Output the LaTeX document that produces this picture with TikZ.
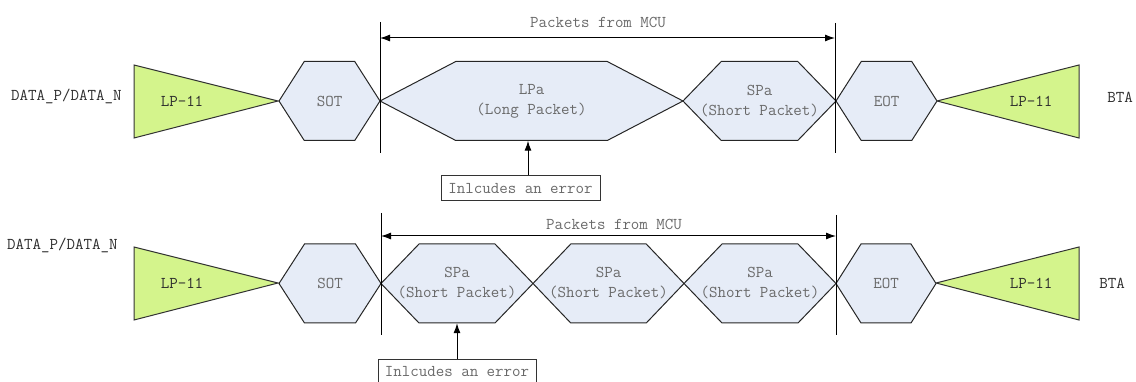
\documentclass[tikz,border=0pt]{standalone}
\usepackage{fontspec}
\usetikzlibrary{arrows.meta}

\definecolor{lpgreen}{RGB}{212,244,140}
\definecolor{pktblue}{RGB}{230,236,247}
\definecolor{softtext}{RGB}{105,105,105}
\definecolor{darktext}{RGB}{45,45,45}

\newcommand{\pktfont}{\fontsize{16.5}{20}\selectfont\ttfamily}

% hexagon from left x to right x around centre y, named node in the middle
\newcommand{\pkt}[5]{%
  \draw[pktshape] (#2,#4) -- ({#2+(#3-#2)/4},#4-39.5) -- ({#3-(#3-#2)/4},#4-39.5)
    -- (#3,#4) -- ({#3-(#3-#2)/4},#4+39.5) -- ({#2+(#3-#2)/4},#4+39.5) -- cycle;
  \node[pkttext, minimum width={#3-#2}] (#1) at ({(#2+#3)/2},#4) {#5};
}

\tikzset{
  lpshape/.style={fill=lpgreen, draw=black!80, line width=1pt, line join=miter},
  pktshape/.style={fill=pktblue, draw=black!85, line width=1pt, line join=miter},
  pkttext/.style={text=softtext, align=center, minimum height=79pt, inner sep=0pt, font=\pktfont},
  lptext/.style={text=darktext, inner sep=0pt, font=\pktfont},
  sidelabel/.style={text=darktext, inner sep=0pt, font=\pktfont},
  spantext/.style={text=softtext, inner sep=0pt, font=\pktfont},
  marker/.style={line width=1pt},
  spanarrow/.style={{Latex[length=10pt,width=7pt]}-{Latex[length=10pt,width=7pt]}, line width=1pt},
  errbox/.style={draw=black!80, line width=1pt, text=softtext, minimum height=25pt, inner sep=0pt, font=\pktfont},
  errarrow/.style={-{Latex[length=10pt,width=7pt]}, line width=1pt}
}

\begin{document}
\begin{tikzpicture}[x=1pt, y=-1pt, line cap=butt]
  \useasboundingbox (0,0) rectangle (1136,382);

  % ---- first row: one long packet ----
  \node[sidelabel, anchor=west] (side1) at (11,96) {DATA\_P/DATA\_N};
  \node[sidelabel] (bta1) at (1120,97) {BTA};

  \draw[lpshape] (134,65) -- (278,101) -- (134,138) -- cycle;
  \node[lptext] (lpl1) at (182,101) {LP-11};
  \draw[lpshape] (1079,65) -- (937,101) -- (1079,138) -- cycle;
  \node[lptext] (lpr1) at (1031,101) {LP-11};

  \pkt{sot1}{279}{380}{101}{SOT}
  \pkt{lpa1}{380}{683}{101}{LPa\\(Long Packet)}
  \pkt{spa1}{683}{836}{101}{SPa\\(Short Packet)}
  \pkt{eot1}{836}{937}{101}{EOT}

  % markers and span
  \draw[marker] (380,22) -- (380,153);
  \draw[marker] (835,23) -- (835,153);
  \coordinate (s1a) at (380,38);
  \coordinate (s1b) at (835,38);
  \draw[spanarrow] (s1a) -- (s1b);
  \node[spantext] (mcu1) at (598,22) {Packets from MCU};

  % error note
  \node[errbox, minimum width=159pt] (err1) at (520.5,188.5) {Inlcudes an error};
  \draw[errarrow] ([xshift=7.5pt]err1.north) -- ([xshift=7.5pt]err1.north |- lpa1.south);

  % ---- second row: three short packets ----
  \node[sidelabel, anchor=west] (side2) at (7,245) {DATA\_P/DATA\_N};
  \node[sidelabel] (bta2) at (1112,283) {BTA};

  \draw[lpshape] (134,247) -- (278,283) -- (134,320) -- cycle;
  \node[lptext] (lpl2) at (182,283) {LP-11};
  \draw[lpshape] (1079,247) -- (936,283) -- (1079,320) -- cycle;
  \node[lptext] (lpr2) at (1031,283) {LP-11};

  \pkt{sot2}{279}{381}{283.5}{SOT}
  \pkt{spb1}{381}{533}{283.5}{SPa\\(Short Packet)}
  \pkt{spb2}{533}{684}{283.5}{SPa\\(Short Packet)}
  \pkt{spb3}{684}{836}{283.5}{SPa\\(Short Packet)}
  \pkt{eot2}{836}{936}{283.5}{EOT}

  % markers and span
  \draw[marker] (381,213) -- (381,335);
  \draw[marker] (836,215) -- (836,335);
  \coordinate (s2a) at (381,236);
  \coordinate (s2b) at (836,236);
  \draw[spanarrow] (s2a) -- (s2b);
  \node[spantext] (mcu2) at (614,224) {Packets from MCU};

  % error note
  \node[errbox, minimum width=158pt] (err2) at (457,371.5) {Inlcudes an error};
  \draw[errarrow] (err2.north) -- (err2.north |- spb1.south);
\end{tikzpicture}
\end{document}
